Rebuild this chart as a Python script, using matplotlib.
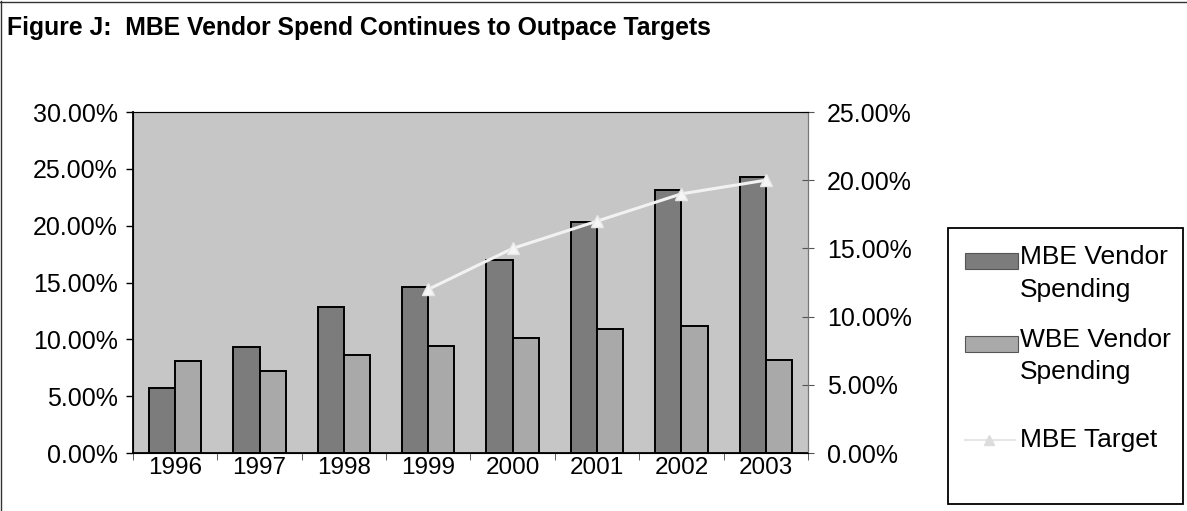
import numpy as np
import matplotlib.pyplot as plt
from matplotlib.lines import Line2D
from matplotlib.patches import Rectangle
from matplotlib.ticker import FuncFormatter

plt.rcParams['font.family'] = ['Liberation Sans', 'DejaVu Sans']

years = ['1996', '1997', '1998', '1999', '2000', '2001', '2002', '2003']
mbe_spend = [5.7, 9.3, 12.85, 14.6, 17.0, 20.3, 23.1, 24.3]
wbe_spend = [8.1, 7.25, 8.65, 9.4, 10.1, 10.95, 11.15, 8.15]
target_years = ['1999', '2000', '2001', '2002', '2003']
mbe_target = [12.0, 15.0, 17.0, 19.0, 20.0]

MBE_COL = '#7c7c7c'
WBE_COL = '#a9a9a9'
W, H = 1187, 511

fig = plt.figure(figsize=(W / 100, H / 100), dpi=100)
ax = fig.add_axes([0.1120, 0.1135, 0.5687, 0.6673])
ax.set_facecolor('#c6c6c6')

x = np.arange(len(years))
w = 0.31
ax.bar(x - w / 2, mbe_spend, w, color=MBE_COL, edgecolor='black', linewidth=1.4, zorder=3)
ax.bar(x + w / 2, wbe_spend, w, color=WBE_COL, edgecolor='black', linewidth=1.4, zorder=3)

ax.set_xlim(-0.5, len(years) - 0.5)
ax.set_ylim(0, 30)
ax.set_yticks(np.arange(0, 31, 5))
pct = FuncFormatter(lambda v, _: f'{v:.2f}%')
ax.yaxis.set_major_formatter(pct)
ax.set_xticks(x)
ax.set_xticklabels(years)
ax.set_xticks(np.arange(-0.5, len(years)), minor=True)
ax.tick_params(axis='x', which='major', length=0, pad=3, labelsize=17.5)
ax.tick_params(axis='x', which='minor', length=5, direction='out', color='#444444')
ax.tick_params(axis='y', length=5, direction='out', pad=6, labelsize=18, width=1)

for s in ['left', 'bottom']:
    ax.spines[s].set_linewidth(1.3)
ax.spines['top'].set_color('#555555')
ax.spines['right'].set_color('#777777')

ax2 = ax.twinx()
ax2.set_ylim(0, 25)
ax2.set_yticks(np.arange(0, 26, 5))
ax2.yaxis.set_major_formatter(pct)
ax2.tick_params(axis='y', length=9, direction='inout', pad=9, labelsize=18, color='#555555')
ax2.spines['right'].set_color('#777777')
tx = [years.index(y) for y in target_years]
ax2.plot(tx, mbe_target, color='#f2f2f2', linewidth=2.2, marker='^', markersize=9,
         markerfacecolor='#f6f6f6', markeredgecolor='#e8e8e8', zorder=4)

fig.text(0.006, 0.945, 'Figure J:  MBE Vendor Spend Continues to Outpace Targets',
         fontsize=17.8, fontweight='bold', ha='left', va='center')

# outer frame (left and top edges)
fig.add_artist(Line2D([0.001, 0.001], [0, 0.998], transform=fig.transFigure, color='#333333', lw=1))
fig.add_artist(Line2D([0, 1], [0.997, 0.997], transform=fig.transFigure, color='#333333', lw=1))


def px(xp, yp):
    return xp / W, 1 - yp / H


# legend box, drawn by hand in pixel positions
x0, y0 = px(948, 504)
fig.add_artist(Rectangle((x0, y0), (1183 - 948) / W, (504 - 228) / H,
                         transform=fig.transFigure, fill=False, edgecolor='black', lw=1.3))
for top, col in [(253, MBE_COL), (336, WBE_COL)]:
    rx, ry = px(965, top + 16)
    fig.add_artist(Rectangle((rx, ry), 53 / W, 16 / H, transform=fig.transFigure,
                             facecolor=col, edgecolor='#555555', lw=0.8))
fig.add_artist(Line2D([965 / W, 1015 / W], [1 - 440 / H] * 2, transform=fig.transFigure,
                      color='#e6e6e6', lw=1.5))
mx, my = px(989, 440)
fig.add_artist(Line2D([mx], [my], transform=fig.transFigure, marker='^', markersize=7,
                      color='#dcdcdc', lw=0))

legend_lines = [('MBE Vendor', 257), ('Spending', 290), ('WBE Vendor', 340),
                ('Spending', 372), ('MBE Target', 440)]
for txt, yp in legend_lines:
    fig.text(1020 / W, 1 - yp / H, txt, fontsize=19, ha='left', va='center')

fig.savefig('out.png', dpi=100)
